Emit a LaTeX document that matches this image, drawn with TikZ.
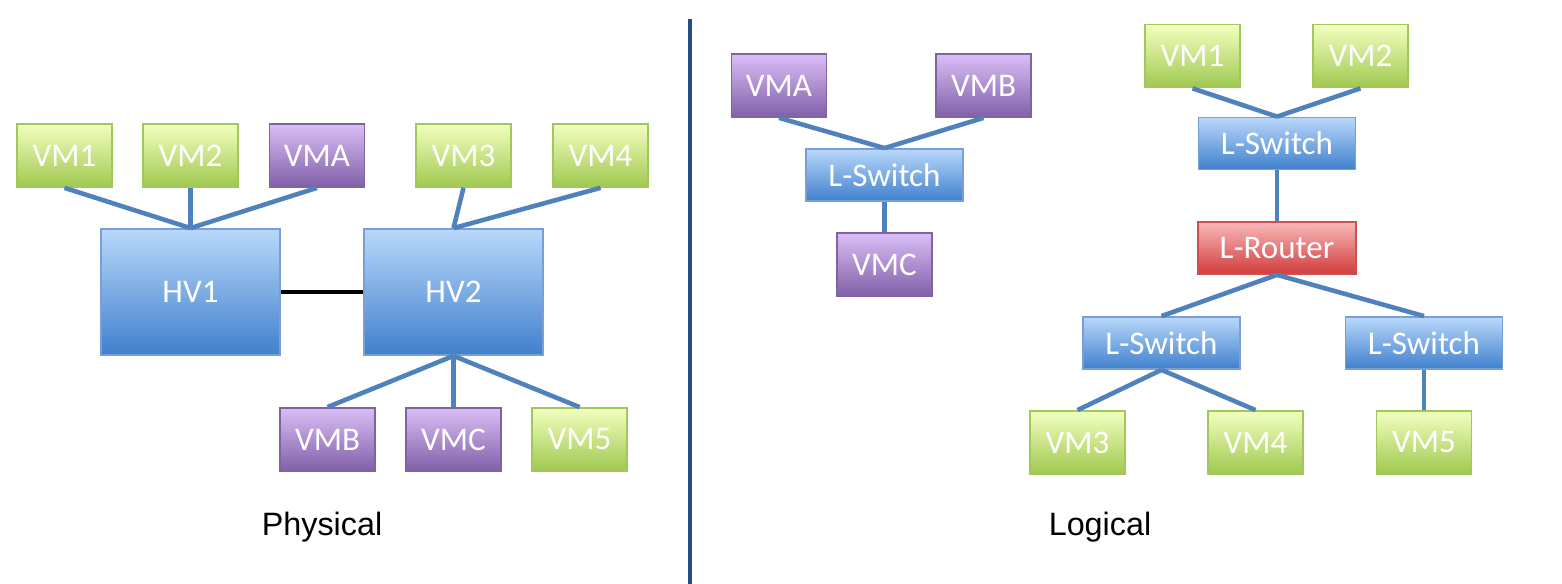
\documentclass[tikz,border=0pt]{standalone}
\usepackage{fontspec}
\setmainfont{Carlito}
\newfontfamily\labelfont{Liberation Sans}
\usepackage{tikz}

\definecolor{linkblue}{HTML}{4F81BD}
\definecolor{divblue}{HTML}{264D7F}

\begin{document}
\begin{tikzpicture}[
  box/.style={draw, line width=0.5pt, inner sep=0pt, text=white,
    font=\fontsize{9.4}{11}\selectfont},
  vmgreen/.style={box, draw={rgb,255:red,160;green,200;blue,90}, top color=green!20!yellow!25!white,
    bottom color={rgb,255:red,160;green,200;blue,80}, minimum width=0.95cm, minimum height=0.63cm},
  vmpurple/.style={box, draw={rgb,255:red,128;green,100;blue,162}, top color={rgb,255:red,218;green,190;blue,245},
    bottom color={rgb,255:red,128;green,96;blue,168}, minimum width=0.95cm, minimum height=0.63cm},
  hv/.style={box, draw={rgb,255:red,120;green,160;blue,215}, top color={rgb,255:red,185;green,216;blue,250},
    bottom color={rgb,255:red,64;green,128;blue,205}, minimum width=1.79cm, minimum height=1.26cm},
  lswitch/.style={hv, minimum width=1.57cm, minimum height=0.52cm},
  lrouter/.style={box, draw={rgb,255:red,205;green,80;blue,80}, top color={rgb,255:red,248;green,185;blue,185},
    bottom color={rgb,255:red,210;green,60;blue,60}, minimum width=1.58cm, minimum height=0.52cm},
  link/.style={draw=linkblue, line width=1.3pt},
  caption/.style={font=\labelfont\fontsize{9.2}{11}\selectfont}
]
\useasboundingbox (0,0) rectangle (15.62,5.84);
% physical
\node[vmgreen] (pvm1) at (0.645,4.285) {VM1};
\node[vmgreen] (pvm2) at (1.905,4.285) {VM2};
\node[vmpurple] (pvma) at (3.17,4.285) {VMA};
\node[vmgreen] (pvm3) at (4.635,4.285) {VM3};
\node[vmgreen] (pvm4) at (6.005,4.285) {VM4};
\node[hv] (hv1) at (1.905,2.92) {HV1};
\node[hv] (hv2) at (4.535,2.92) {HV2};
\node[vmpurple] (pvmb) at (3.275,1.445) {VMB};
\node[vmpurple] (pvmc) at (4.535,1.445) {VMC};
\node[vmgreen] (pvm5) at (5.795,1.445) {VM5};
\foreach \v in {pvm1,pvm2,pvma}
  \draw[link] (\v.south) -- (hv1.north);
\foreach \v in {pvm3,pvm4}
  \draw[link] (\v.south) -- (hv2.north);
\foreach \v in {pvmb,pvmc,pvm5}
  \draw[link] (hv2.south) -- (\v.north);
\draw[line width=1.4pt] (hv1.east) -- (hv2.west);
\node[caption] (phys) at (3.22,0.57) {Physical};
% divider
\coordinate (divtop) at (6.90,5.65);
\coordinate (divbot) at (6.90,0.00);
\draw[divblue, line width=1.2pt] (divtop) -- (divbot);
% logical
\node[vmpurple] (lvma) at (7.79,4.985) {VMA};
\node[vmpurple] (lvmb) at (9.835,4.985) {VMB};
\node[lswitch] (sw1) at (8.845,4.09) {L-Switch};
\node[vmpurple] (lvmc) at (8.845,3.195) {VMC};
\node[vmgreen] (lvm1) at (11.925,5.28) {VM1};
\node[vmgreen] (lvm2) at (13.605,5.28) {VM2};
\node[lswitch] (sw2) at (12.77,4.405) {L-Switch};
\node[lrouter] (rtr) at (12.77,3.36) {L-Router};
\node[lswitch] (sw3) at (11.615,2.41) {L-Switch};
\node[lswitch] (sw4) at (14.24,2.41) {L-Switch};
\node[vmgreen] (lvm3) at (10.775,1.415) {VM3};
\node[vmgreen] (lvm4) at (12.555,1.415) {VM4};
\node[vmgreen] (lvm5) at (14.24,1.415) {VM5};
\draw[link] (lvma.south) -- (sw1.north);
\draw[link] (lvmb.south) -- (sw1.north);
\draw[link] (sw1.south) -- (lvmc.north);
\draw[link] (lvm1.south) -- (sw2.north);
\draw[link] (lvm2.south) -- (sw2.north);
\draw[link] (sw2.south) -- (rtr.north);
\draw[link] (rtr.south) -- (sw3.north);
\draw[link] (rtr.south) -- (sw4.north);
\draw[link] (sw3.south) -- (lvm3.north);
\draw[link] (sw3.south) -- (lvm4.north);
\draw[link] (sw4.south) -- (lvm5.north);
\node[caption] (logi) at (11.00,0.57) {Logical};
\end{tikzpicture}
\end{document}
